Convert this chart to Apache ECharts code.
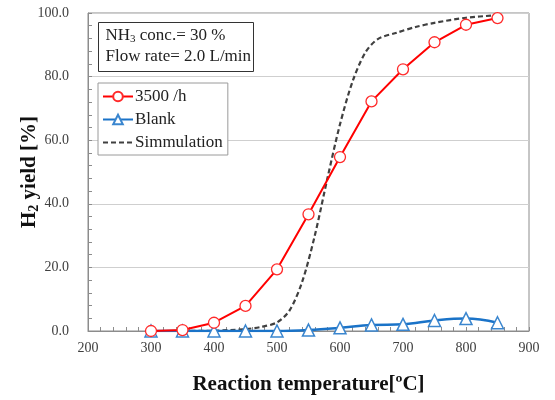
<!DOCTYPE html>
<html>
<head>
<meta charset="utf-8">
<script src="https://cdn.jsdelivr.net/npm/echarts@6/dist/echarts.min.js"></script>
<style>
  html, body { margin: 0; padding: 0; background: #fff; }
  #chart { width: 555px; height: 400px; }
</style>
</head>
<body>
<div id="chart"></div>
<script>
// 反应温度 (°C)
var temps = [300, 350, 400, 450, 500, 550, 600, 650, 700, 750, 800, 850];
var yield3500 = [0, 0.3, 2.6, 7.9, 19.4, 36.7, 54.7, 72.2, 82.3, 90.8, 96.3, 98.4];
var yieldBlank = [0, 0, 0, 0, 0, 0.3, 1.0, 1.9, 2.1, 3.3, 3.9, 2.6];
// 模拟曲线
var simTemps = [350, 400, 450, 475, 500, 520, 540, 560, 580, 600, 620, 640, 660, 690, 720, 750, 800, 850];
var simYield = [0, 0.1, 0.6, 1.3, 2.7, 6.5, 15.5, 30, 48, 65, 78.5, 87.5, 91.8, 93.8, 95.6, 96.9, 98.5, 99.3];

function pairs(xs, ys) {
  return xs.map(function (x, i) { return [x, ys[i]]; });
}

var serif = "'Liberation Serif', 'DejaVu Serif', serif";
var axisGray = "#8c8c8c";

var chart = echarts.init(document.getElementById("chart"));
var option = {
  animation: false,
  grid: {
    left: 88,
    right: 26,
    top: 13,
    bottom: 64,
    show: true,
    borderColor: axisGray,
    borderWidth: 1,
  },
  legend: {
    orient: "vertical",
    left: 98,
    top: 83,
    itemWidth: 30,
    itemHeight: 12,
    itemGap: 6,
    padding: [5, 5, 4, 4],
    borderColor: "#9a9a9a",
    borderWidth: 1,
    backgroundColor: "#fff",
    textStyle: { fontFamily: serif, fontSize: 17, color: "#222", padding: [0, 0, 0, -3] },
    data: ["3500 /h", "Blank", "Simmulation"],
  },
  xAxis: {
    type: "value",
    min: 200,
    max: 900,
    interval: 100,
    name: "Reaction temperature[ºC]",
    nameLocation: "middle",
    nameGap: 43,
    nameMoveOverlap: false,
    nameTextStyle: { fontFamily: serif, fontSize: 21, fontWeight: "bold", color: "#111" },
    axisLine: { lineStyle: { color: axisGray } },
    axisTick: { inside: true, length: 4, lineStyle: { color: axisGray } },
    minorTick: { show: true, splitNumber: 5, length: 4, lineStyle: { color: axisGray } },
    axisLabel: { fontFamily: serif, fontSize: 14, color: "#404040", margin: 10 },
    splitLine: { show: false },
  },
  yAxis: {
    type: "value",
    min: 0,
    max: 100,
    interval: 20,
    name: "{b|H}{s|2}{b| yield [%]}",
    nameLocation: "middle",
    nameGap: 47,
    nameMoveOverlap: false,
    nameTextStyle: {
      rich: {
        b: { fontFamily: serif, fontSize: 21, fontWeight: "bold", color: "#111" },
        s: { fontFamily: serif, fontSize: 14, fontWeight: "bold", color: "#111", padding: [9, 0, 0, 0] },
      },
    },
    axisLine: { show: true, lineStyle: { color: axisGray } },
    axisTick: { show: true, inside: true, length: 4, lineStyle: { color: axisGray } },
    minorTick: { show: true, splitNumber: 5, length: 4, lineStyle: { color: axisGray } },
    axisLabel: {
      fontFamily: serif,
      fontSize: 14,
      color: "#404040",
      margin: 19,
      formatter: function (v) { return v.toFixed(1); },
    },
    splitLine: { show: true, lineStyle: { color: "#cfcfcf", width: 1 } },
  },
  graphic: [
    {
      type: "group",
      left: 98,
      top: 22,
      children: [
        {
          type: "rect",
          shape: { x: 0, y: 0, width: 155, height: 49 },
          style: { fill: "#fff", stroke: "#333", lineWidth: 1 },
        },
        {
          type: "text",
          x: 7,
          y: 4,
          style: {
            text: "{t|NH}{s|3}{t| conc.= 30 %}",
            rich: {
              t: { fontFamily: serif, fontSize: 17, fill: "#222" },
              s: { fontFamily: serif, fontSize: 11, fill: "#222", padding: [7, 0, 0, 0] },
            },
          },
        },
        {
          type: "text",
          x: 7,
          y: 26,
          style: { text: "Flow rate= 2.0 L/min", fontFamily: serif, fontSize: 17, fill: "#222" },
        },
      ],
    },
  ],
  series: [
    {
      name: "Simmulation",
      type: "line",
      data: pairs(simTemps, simYield),
      smooth: 0.3,
      showSymbol: false,
      symbol: "none",
      z: 1,
      lineStyle: { color: "#404040", width: 2.2, type: [5, 3] },
      itemStyle: { color: "rgba(0,0,0,0)" },
    },
    {
      name: "Blank",
      type: "line",
      data: pairs(temps, yieldBlank),
      smooth: 0.4,
      symbol: "triangle",
      symbolSize: 12,
      z: 3,
      lineStyle: { color: "#1a73c8", width: 2.5 },
      itemStyle: { color: "#fff", borderColor: "#3a86cf", borderWidth: 1.5 },
    },
    {
      name: "3500 /h",
      type: "line",
      data: pairs(temps, yield3500),
      symbol: "circle",
      symbolSize: 11,
      z: 4,
      lineStyle: { color: "#ff0000", width: 2 },
      itemStyle: { color: "#fff", borderColor: "#ff2a2a", borderWidth: 1.3 },
    },
  ],
};
chart.setOption(option);
</script>
</body>
</html>
